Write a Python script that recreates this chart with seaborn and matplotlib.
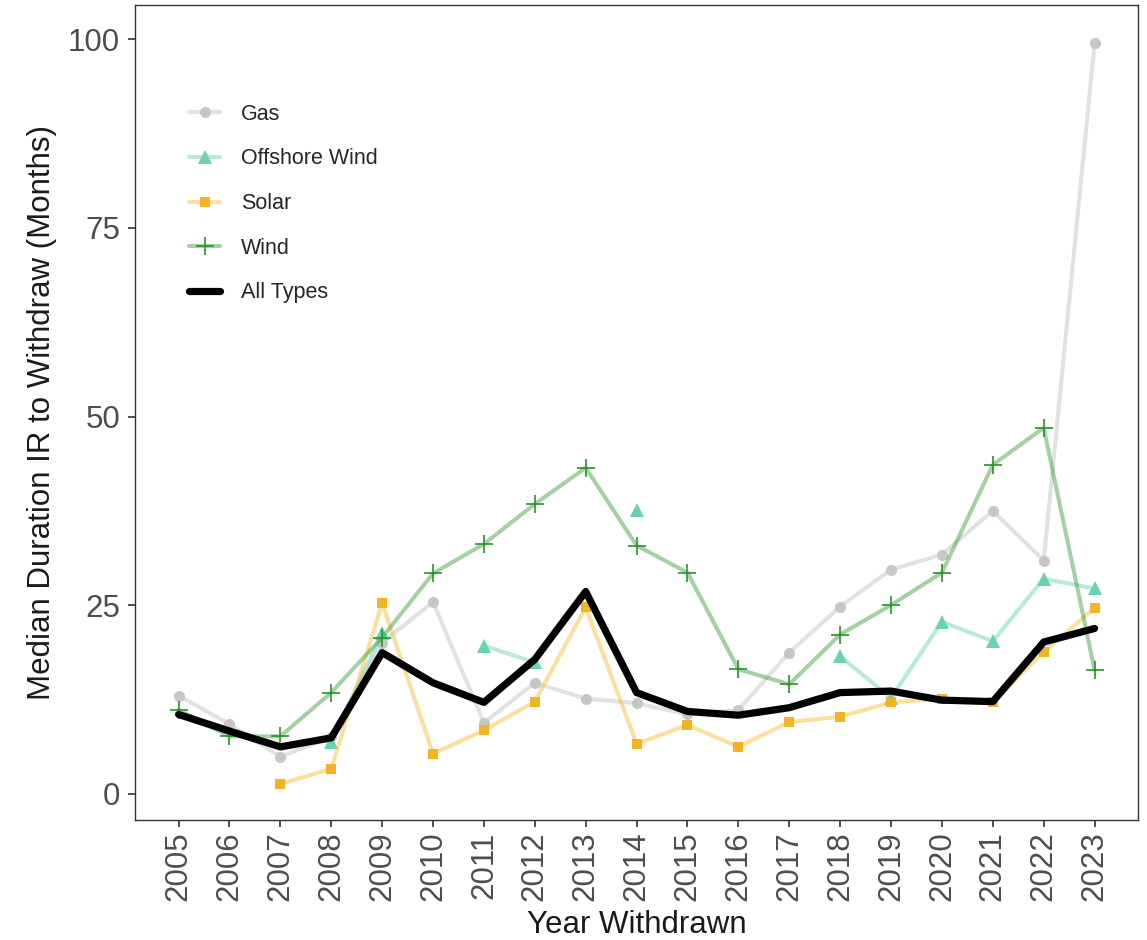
import numpy as np
import pandas as pd
import matplotlib
matplotlib.use("Agg")
import matplotlib.pyplot as plt
from matplotlib.lines import Line2D
import seaborn as sns

# Values (median months, NaN = no data)
years = list(range(2005, 2024))
gas = [13.0, 9.2, 4.9, 7.5, 20.0, 25.4, 9.4, 14.7, 12.6, 12.0, 10.5,
       11.1, 18.7, 24.8, 29.7, 31.7, 37.5, 30.9, 99.5]
offshore_wind = [np.nan, np.nan, np.nan, 6.9, 21.3, np.nan, 19.6, 17.4, np.nan, 37.6, np.nan,
                 np.nan, np.nan, 18.2, 12.7, 22.8, 20.2, 28.5, 27.2]
solar = [np.nan, np.nan, 1.3, 3.3, 25.3, 5.3, 8.4, 12.2, 24.7, 6.6, 9.1,
         6.2, 9.5, 10.2, 12.1, 12.6, 12.2, 18.8, 24.6]
wind = [11.1, 7.6, 7.6, 13.4, 20.7, 29.2, 33.1, 38.4, 43.2, 32.9, 29.3,
        16.5, 14.5, 21.1, 25.0, 29.3, 43.6, 48.5, 16.4]
all_types = [10.5, 8.3, 6.2, 7.4, 18.7, 14.7, 12.1, 17.8, 26.8, 13.4, 10.9,
             10.4, 11.4, 13.4, 13.6, 12.4, 12.2, 20.1, 21.9]

series = {
    "Gas": gas,
    "Offshore Wind": offshore_wind,
    "Solar": solar,
    "Wind": wind,
}

# style per type: line colour (with alpha), marker colour, marker, marker size
styles = {
    "Gas": dict(line=(0.75, 0.75, 0.75, 0.45), mk=(0.78, 0.78, 0.78, 1.0), marker="o", ms=8, mew=0),
    "Offshore Wind": dict(line=(0.40, 0.80, 0.67, 0.45), mk=(0.42, 0.82, 0.70, 1.0), marker="^", ms=9.5, mew=0),
    "Solar": dict(line=(0.96, 0.72, 0.15, 0.45), mk=(0.95, 0.70, 0.15, 1.0), marker="s", ms=7.5, mew=0),
    "Wind": dict(line=(0.20, 0.60, 0.20, 0.45), mk=(0.15, 0.58, 0.15, 1.0), marker="+", ms=13, mew=1.2),
}

sns.set_theme(style="ticks")
plt.rcParams["font.family"] = ["Liberation Sans", "DejaVu Sans"]

fig = plt.figure(figsize=(11.47, 9.4), dpi=100)
ax = fig.add_axes([0.118, 0.128, 0.874, 0.867])

# long-form table; segment id keeps gaps (NaN years) unconnected
rows = []
for name, vals in series.items():
    seg = 0
    for yr, v in zip(years, vals):
        if np.isnan(v):
            seg += 1
            continue
        rows.append({"type": name, "Year": yr, "value": v, "seg": seg})
df = pd.DataFrame(rows)

for name in series:
    st = styles[name]
    sub = df[df["type"] == name]
    mk_kw = dict(marker=st["marker"], markersize=st["ms"], markeredgewidth=st["mew"],
                 markerfacecolor=st["mk"], markeredgecolor=st["mk"])
    sns.lineplot(data=sub, x="Year", y="value", units="seg", estimator=None,
                 color=st["line"], linewidth=2.9, ax=ax, legend=False, **mk_kw)

df_all = pd.DataFrame({"Year": years, "value": all_types})
sns.lineplot(data=df_all, x="Year", y="value", color="black", linewidth=5.2,
             ax=ax, legend=False)

ax.set_xlim(2005 - 0.85, 2023 + 0.85)
ax.set_ylim(-3.45, 104.6)
ax.set_xticks(years)
ax.set_xticklabels([str(y) for y in years], rotation=90)
ax.set_yticks([0, 25, 50, 75, 100])
ax.tick_params(axis="both", labelsize=22.5, colors="#333333", labelcolor="#4d4d4d",
               length=5, width=1.2)
ax.tick_params(axis="y", pad=6)
ax.set_xlabel("Year Withdrawn", fontsize=22.5, color="#1a1a1a", labelpad=6)
ax.set_ylabel("Median Duration IR to Withdraw (Months)", fontsize=22.5, color="#1a1a1a",
              labelpad=8)
for sp in ax.spines.values():
    sp.set_visible(True)
    sp.set_color("#333333")
    sp.set_linewidth(1.0)

handles = []
for name in series:
    st = styles[name]
    handles.append(Line2D([], [], color=st["line"], linewidth=2.9, marker=st["marker"],
                          markersize=st["ms"], markeredgewidth=st["mew"],
                          markerfacecolor=st["mk"], markeredgecolor=st["mk"]))
handles.append(Line2D([], [], color="black", linewidth=5.2))
labels = list(series.keys()) + ["All Types"]
ax.legend(handles, labels, loc="upper left", bbox_to_anchor=(0.045, 0.889),
          frameon=False, fontsize=15.5, handlelength=1.45, labelspacing=1.1,
          handletextpad=0.95, borderaxespad=0)

fig.savefig("out.png", dpi=100)
